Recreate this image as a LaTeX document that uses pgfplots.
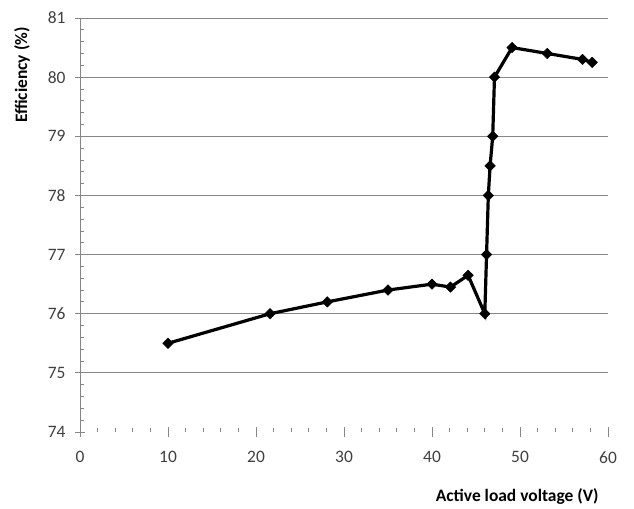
\documentclass[border=0pt]{standalone}
\usepackage{fontspec}
\setmainfont{Carlito}
\usepackage{pgfplots}
\pgfplotsset{compat=1.18}
\definecolor{axgray}{HTML}{868686}
\definecolor{lblgray}{HTML}{404040}
\begin{document}
\begin{tikzpicture}
\begin{axis}[
  name=ax,
  scale only axis, width=528bp, height=414bp,
  xmin=0, xmax=60, ymin=74, ymax=81,
  axis x line=bottom, axis y line=left,
  x axis line style={draw=none,-},
  y axis line style={axgray,line width=0.8bp,-},
  xtick={0,10,...,60}, ytick={74,...,81},
  minor x tick num=4, minor y tick num=4,
  tick align=inside,
  major tick length=10bp, minor tick length=4bp,
  tick style={axgray,line width=0.8bp},
  major x tick style={yshift=-5bp},
  major y tick style={xshift=-5bp},
  extra y ticks={75,...,81},
  extra y tick labels={},
  extra y tick style={grid=major, major grid style={axgray,line width=0.8bp}},
  /pgf/number format/assume math mode=true,
  every tick label/.append style={font=\fontsize{17.5}{20}\selectfont, text=lblgray},
  yticklabel style={xshift=-11bp},
  xticklabel style={yshift=-16bp},
  every axis y label/.style={at={(axis description cs:-0.11,0.862)}, rotate=90, anchor=center, font=\bfseries\fontsize{17.5}{20}\selectfont},
  every axis x label/.style={at={(axis description cs:0.828,-0.157)}, anchor=center, font=\bfseries\fontsize{17.5}{20}\selectfont},
  ylabel={Efficiency (\%)},
  xlabel={Active load voltage (V)},
  clip=false,
]
\addplot[black, line width=3.2bp, mark=square*, mark size=3.7bp, mark options={solid, fill=black, rotate=45, line width=0.5bp}] coordinates {
  (10.0,75.5) (21.6,76.0) (28.1,76.2) (35.0,76.4) (40.0,76.5) (42.1,76.45)
  (44.1,76.65) (46.0,76.0) (46.2,77.0) (46.4,78.0) (46.6,78.5) (46.9,79.0)
  (47.1,80.0) (49.1,80.5) (53.1,80.4) (57.1,80.3) (58.2,80.25)
};
\end{axis}
\path ([shift={(-80bp,-75bp)}]ax.south west) rectangle ([shift={(26bp,18bp)}]ax.north east);
\end{tikzpicture}
\end{document}
